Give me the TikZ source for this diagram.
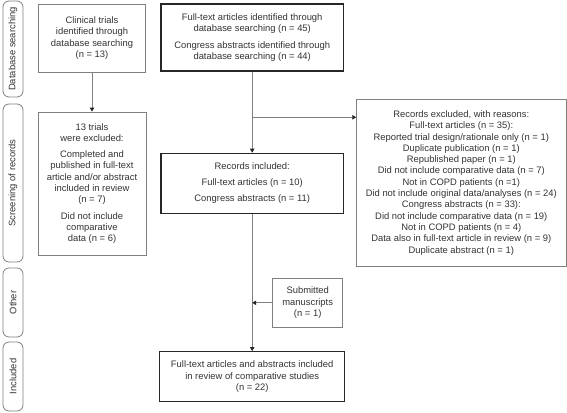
\documentclass[tikz,border=0pt]{standalone}
\usepackage{fontspec}
\setmainfont{Liberation Sans}
\usetikzlibrary{arrows.meta}
\definecolor{linegray}{rgb}{0.5,0.5,0.5}
\definecolor{textgray}{rgb}{0.2,0.2,0.2}
\tikzset{
  thinbox/.style={draw=linegray, line width=0.8pt, align=center, inner sep=0pt, text=textgray},
  thickbox/.style={draw=black!85, line width=1.2pt, align=center, inner sep=0pt, text=textgray},
  stage/.style={draw=linegray, line width=0.8pt, rounded corners=6pt, inner sep=0pt, text=textgray},
  arr/.style={draw=linegray, line width=0.8pt, -{Triangle[length=4pt,width=4.5pt,color=black!85]}}
}
\begin{document}
\begin{tikzpicture}[x=1pt,y=-1pt,font=\fontsize{9.4}{11.3}\selectfont]
\useasboundingbox (0,0) rectangle (567,412);
% stages on the left
\node[stage, minimum width=20pt, minimum height=96pt] (s1) at (13,49) {};
\node[rotate=90, text=textgray] at (s1.center) {Database searching};
\node[stage, minimum width=20pt, minimum height=158pt] (s2) at (13,183) {};
\node[rotate=90, text=textgray] at (s2.center) {Screening of records};
\node[stage, minimum width=20pt, minimum height=69pt] (s3) at (13,302.5) {};
\node[rotate=90, text=textgray] at (s3.center) {Other};
\node[stage, minimum width=20pt, minimum height=69pt] (s4) at (13,376.5) {};
\node[rotate=90, text=textgray] at (s4.center) {Included};
% boxes
\node[thinbox, minimum width=107.4pt, minimum height=68.3pt] (trials) at (92,38.2)
  {Clinical trials\\identified through\\database searching\\(n = 13)};
\node[thinbox, minimum width=108pt, minimum height=143pt] (trex) at (92,183.5)
  {13 trials\\were excluded:\\[5pt]Completed and\\published in full-text\\article and/or abstract\\included in review\\(n = 7)\\[5pt]Did not include\\comparative\\data (n = 6)};
\node[thickbox, minimum width=182.3pt, minimum height=67pt] (ident) at (252.2,37.5)
  {Full-text articles identified through\\database searching (n = 45)\\[5pt]Congress abstracts identified through\\database searching (n = 44)};
\node[thickbox, minimum width=182.3pt, minimum height=60pt] (incl) at (252.2,183.3)
  {Records included:\\[4.7pt]Full-text articles (n = 10)\\[4.7pt]Congress abstracts (n = 11)};
\node[thinbox, minimum width=209.3pt, minimum height=167.7pt] (excl) at (461.3,182.8)
  {Records excluded, with reasons:\\Full-text articles (n = 35):\\Reported trial design/rationale only (n = 1)\\Duplicate publication (n = 1)\\Republished paper (n = 1)\\Did not include comparative data (n = 7)\\Not in COPD patients (n =1)\\Did not include original data/analyses (n = 24)\\Congress abstracts (n = 33):\\Did not include comparative data (n = 19)\\Not in COPD patients (n = 4)\\Data also in full-text article in review (n = 9)\\Duplicate abstract (n = 1)};
\node[thinbox, minimum width=70pt, minimum height=49pt] (subm) at (307.7,302.8)
  {Submitted\\manuscripts\\(n = 1)};
\node[thickbox, minimum width=184.7pt, minimum height=50pt] (final) at (252.2,376.7)
  {Full-text articles and abstracts included\\in review of comparative studies\\(n = 22)};
% connectors
\coordinate (split) at (252.2,117.3);
\draw[arr] (trials) -- (trex);
\draw[arr] (ident) -- (incl);
\draw[arr] (split) -- (split -| excl.west);
\draw[arr] (incl) -- (final);
\draw[arr] (subm.west) -- (subm.west -| incl.south);
\end{tikzpicture}
\end{document}
